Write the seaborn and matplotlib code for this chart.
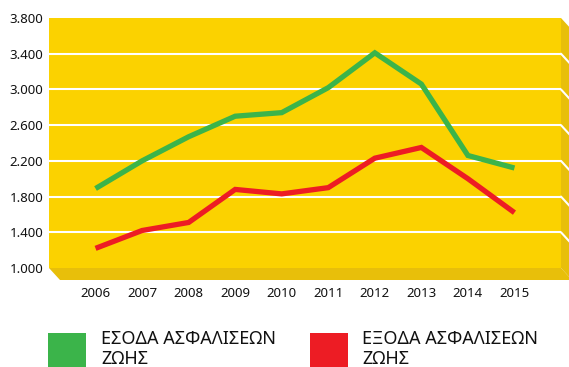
import matplotlib
matplotlib.use("Agg")
import matplotlib.pyplot as plt
import pandas as pd
import seaborn as sns
from matplotlib.patches import Polygon, Rectangle

# Data
years = [2006, 2007, 2008, 2009, 2010, 2011, 2012, 2013, 2014, 2015]
income = [1890, 2200, 2470, 2700, 2740, 3020, 3410, 3060, 2260, 2120]
expenses = [1220, 1420, 1510, 1880, 1830, 1900, 2230, 2350, 2000, 1620]
series_names = ["ΕΣΟΔΑ ΑΣΦΑΛΙΣΕΩΝ ΖΩΗΣ", "ΕΞΟΔΑ ΑΣΦΑΛΙΣΕΩΝ ΖΩΗΣ"]
legend_lines = [("ΕΣΟΔΑ ΑΣΦΑΛΙΣΕΩΝ", "ΖΩΗΣ"), ("ΕΞΟΔΑ ΑΣΦΑΛΙΣΕΩΝ", "ΖΩΗΣ")]
y_ticks = [1000, 1400, 1800, 2200, 2600, 3000, 3400, 3800]

GREEN = "#3bb44a"
RED = "#ed1c24"
FACE = "#fbd200"
SIDE = "#e8bf0a"

sns.set_style("white")
plt.rcParams["font.family"] = ["Noto Sans", "DejaVu Sans"]

df = pd.DataFrame({
    "year": years * 2,
    "value": income + expenses,
    "series": [series_names[0]] * len(years) + [series_names[1]] * len(years),
})

W, H = 569, 367
fig = plt.figure(figsize=(W / 100, H / 100), dpi=100)
left, right, top, bottom = 49, 561, 18, 268
ax = fig.add_axes([left / W, (H - bottom) / H, (right - left) / W, (bottom - top) / H])
ax.set_facecolor(FACE)

# 3D extrusion: right side and floor
dx = 11 / (right - left)
dy = -12 / (bottom - top)
side = Polygon([(1, 1), (1 + dx, 1 + dy), (1 + dx, dy), (1, 0)], closed=True,
               transform=ax.transAxes, facecolor=SIDE, edgecolor="none",
               clip_on=False, zorder=0)
floor = Polygon([(0, 0), (1, 0), (1 + dx, dy), (dx, dy)], closed=True,
                transform=ax.transAxes, facecolor=SIDE, edgecolor="none",
                clip_on=False, zorder=0)
ax.add_patch(side)
ax.add_patch(floor)

ymin, ymax = y_ticks[0], y_ticks[-1]
ax.set_ylim(ymin, ymax)
ax.set_xlim(2005, 2016)

# white grid lines, continuing onto the side face
for v in y_ticks[1:-1]:
    ax.axhline(v, color="white", lw=1.5, zorder=1)
    fy = (v - ymin) / (ymax - ymin)
    ax.plot([1, 1 + dx], [fy, fy + dy], transform=ax.transAxes, color="white",
            lw=1.5, clip_on=False, zorder=1)

sns.lineplot(data=df, x="year", y="value", hue="series",
             palette=[GREEN, RED], linewidth=3.8, ax=ax, legend=False,
             zorder=3)
for line in ax.get_lines()[-2:]:
    line.set_solid_capstyle("butt")
    line.set_solid_joinstyle("miter")

ax.set_xticks(years)
ax.set_xticklabels([str(y) for y in years], fontsize=9.5, color="#111111")
ax.set_yticks(y_ticks)
ax.set_yticklabels([f"{v:,}".replace(",", ".") for v in y_ticks],
                   fontsize=9.5, color="#111111")
ax.tick_params(axis="x", length=0, pad=14)
ax.tick_params(axis="y", length=0, pad=4)
ax.set_xlabel("")
ax.set_ylabel("")
for s in ax.spines.values():
    s.set_visible(False)

# legend
for (sx0, sx1, tx, color, lines) in [(48, 86, 101, GREEN, legend_lines[0]),
                                      (310, 348, 362, RED, legend_lines[1])]:
    fig.patches.append(Rectangle((sx0 / W, 0), (sx1 - sx0) / W, (H - 333) / H,
                                 transform=fig.transFigure, facecolor=color,
                                 edgecolor="none"))
    fig.text(tx / W, (H - 344) / H, lines[0], fontsize=13, va="baseline",
             ha="left", color="#111111")
    fig.text(tx / W, (H - 364) / H, lines[1], fontsize=13, va="baseline",
             ha="left", color="#111111")

fig.savefig("out.png", dpi=100, facecolor="white")
